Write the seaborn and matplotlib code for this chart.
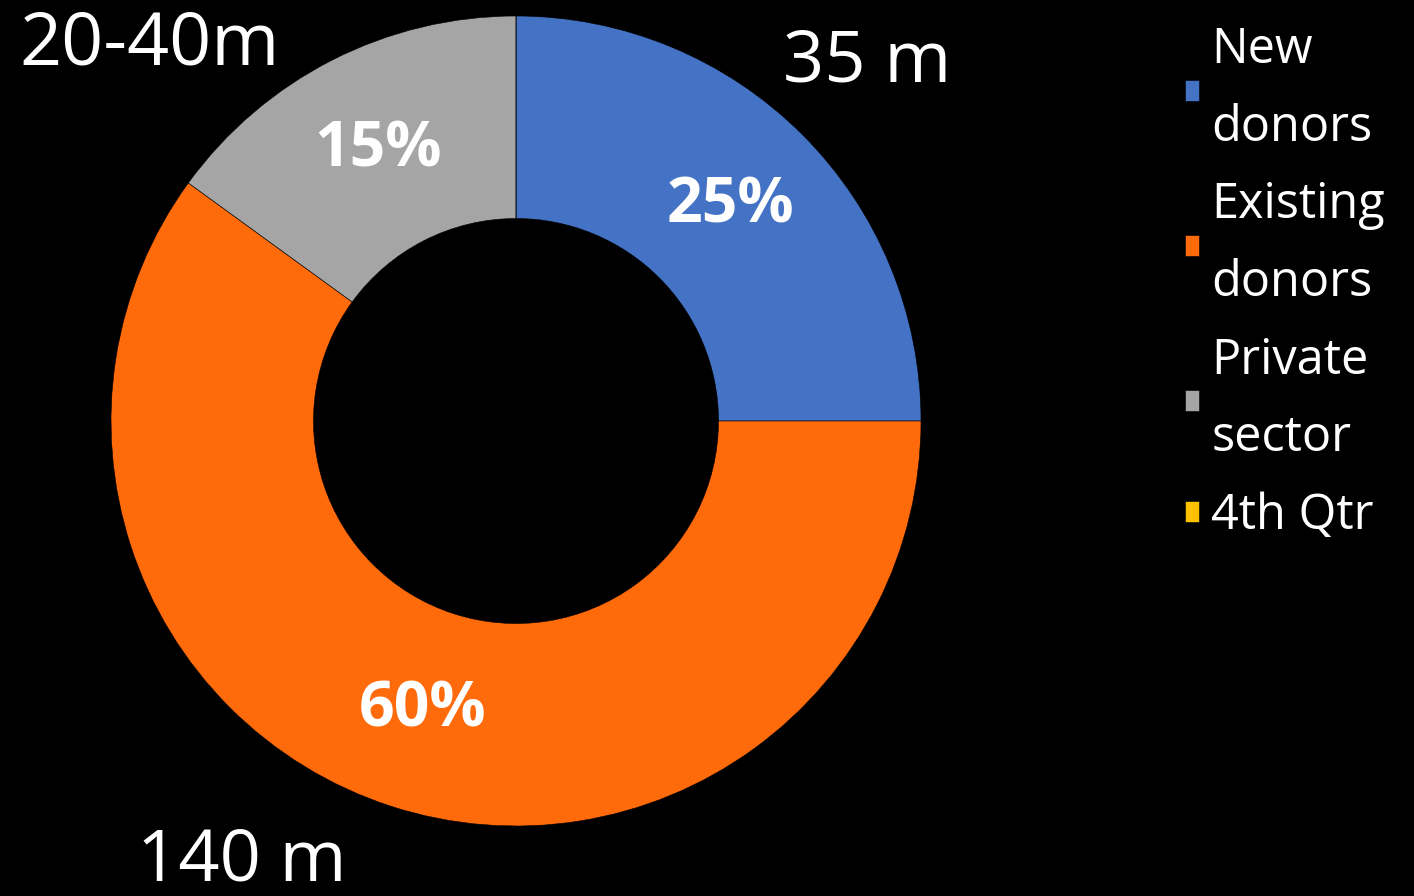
import matplotlib
matplotlib.use("Agg")
import matplotlib.pyplot as plt
import seaborn as sns

categories = ["New\ndonors", "Existing\ndonors", "Private\nsector", "4th Qtr"]
shares = [25, 60, 15, 0]
amount_labels = ["35 m", "140 m", "20-40m"]
colors = ["#4472C4", "#FF6A0A", "#A5A5A5", "#FFC000"]

sns.set_theme(style="dark")
plt.rcParams['font.family'] = ['Open Sans', 'DejaVu Sans']

fig = plt.figure(figsize=(14.14, 8.96), dpi=100, facecolor="black")
ax = fig.add_axes([516/1414 - 405/1414, (896-826)/896, 810/1414, 810/896])
ax.set_facecolor("black")

def pct(p):
    return f"{p:.0f}%" if p > 0.5 else ""

wedges, texts, autotexts = ax.pie(
    shares, colors=colors, startangle=90, counterclock=False,
    wedgeprops=dict(width=0.5, edgecolor="black", linewidth=0.4),
    autopct=pct, pctdistance=0.75,
    textprops=dict(color="white", fontsize=45, fontweight="bold"),
)
ax.set_xlim(-1, 1)
ax.set_ylim(-1, 1)
ax.set_aspect("equal")
ax.axis("off")

# outer amount labels
ax.text(351/405, 358/405, amount_labels[0], color="white", fontsize=52,
        ha="center", va="center")
ax.text(-274/405, -441/405, amount_labels[1], color="white", fontsize=52,
        ha="center", va="center")
ax.text(-366/405, 376/405, amount_labels[2], color="white", fontsize=53,
        ha="center", va="center")

leg = fig.legend(wedges, categories, loc="upper left",
                 bbox_to_anchor=(1166/1414, 1 - 6/896),
                 frameon=False, fontsize=35, labelcolor="white",
                 handlelength=0.28, handleheight=0.28, handletextpad=0.25,
                 labelspacing=0.58, borderaxespad=0)
for t in leg.get_texts():
    t.set_linespacing(1.75)

fig.savefig("out.png", dpi=100, facecolor="black")
